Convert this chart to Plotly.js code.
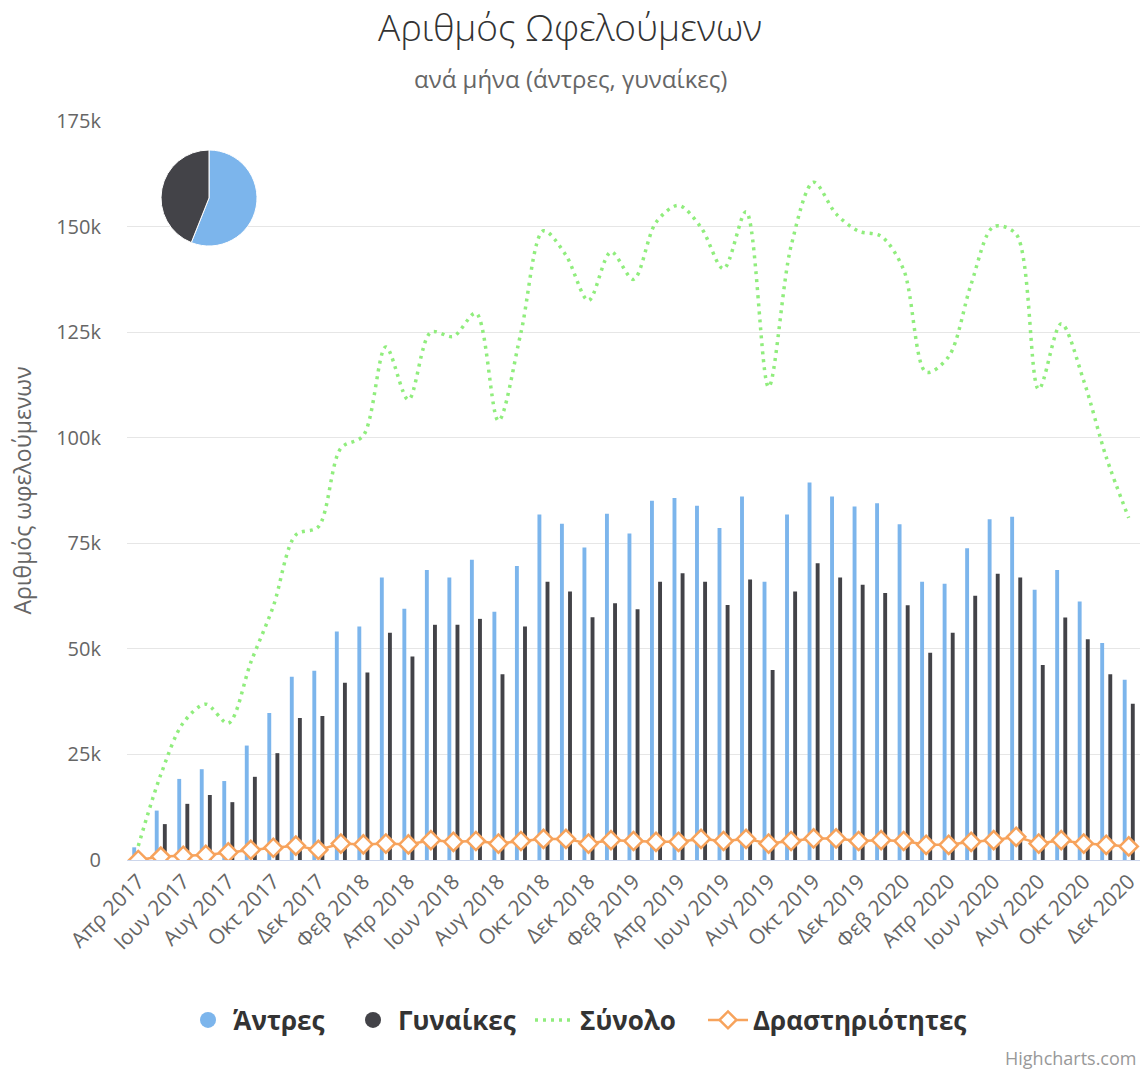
<!DOCTYPE html>
<html>
<head>
<meta charset="utf-8">
<script src="https://cdn.plot.ly/plotly-3.0.1.min.js"></script>
<style>
  html, body { margin: 0; padding: 0; background: #ffffff; }
  #chart { width: 1140px; height: 1071px; }
</style>
</head>
<body>
<div id="chart"></div>
<script>
// Categories (months, Apr 2017 – Dec 2020)
const months = [
  "Απρ 2017","Μαϊ 2017","Ιουν 2017","Ιουλ 2017","Αυγ 2017","Σεπ 2017","Οκτ 2017","Νοε 2017","Δεκ 2017",
  "Ιαν 2018","Φεβ 2018","Μαρ 2018","Απρ 2018","Μαϊ 2018","Ιουν 2018","Ιουλ 2018","Αυγ 2018","Σεπ 2018","Οκτ 2018","Νοε 2018","Δεκ 2018",
  "Ιαν 2019","Φεβ 2019","Μαρ 2019","Απρ 2019","Μαϊ 2019","Ιουν 2019","Ιουλ 2019","Αυγ 2019","Σεπ 2019","Οκτ 2019","Νοε 2019","Δεκ 2019",
  "Ιαν 2020","Φεβ 2020","Μαρ 2020","Απρ 2020","Μαϊ 2020","Ιουν 2020","Ιουλ 2020","Αυγ 2020","Σεπ 2020","Οκτ 2020","Νοε 2020","Δεκ 2020"
];

// Άντρες (men)
const men = [3000, 11700, 19200, 21500, 18700, 27100, 34800, 43400, 44800,
  54100, 55300, 66900, 59500, 68700, 66900, 71100, 58800, 69600, 81800, 79600, 74000,
  82000, 77300, 85100, 85700, 83900, 78600, 86100, 65900, 81800, 89400, 86100, 83700,
  84500, 79500, 65900, 65400, 73800, 80700, 81300, 64000, 68700, 61200, 51400, 42700];

// Γυναίκες (women)
const women = [300, 8500, 13300, 15400, 13700, 19700, 25300, 33600, 34100,
  42000, 44400, 53800, 48200, 55700, 55700, 57100, 44000, 55300, 65900, 63600, 57500,
  60800, 59400, 65900, 67900, 65900, 60400, 66400, 45000, 63600, 70300, 66900, 65200,
  63200, 60300, 49100, 53800, 62600, 67800, 66900, 46200, 57400, 52300, 44000, 37000];

// Σύνολο (total)
const total = [3300, 20200, 32500, 36900, 32400, 46800, 60100, 77000, 78900,
  97500, 100500, 121500, 109000, 125000, 124000, 129500, 104000, 124900, 149000, 143200, 132500,
  144000, 137500, 151000, 155000, 149800, 140000, 153500, 112000, 145400, 160500, 153000, 148900,
  147700, 139800, 115500, 119200, 136400, 150000, 148200, 111500, 127000, 113500, 95400, 81000];

// Δραστηριότητες (activities)
const activities = [0, 800, 1000, 1200, 1800, 2400, 2900, 3400, 2400,
  3900, 3700, 3900, 3700, 4700, 4300, 4500, 3900, 4500, 5000, 5000, 3900,
  4700, 4500, 4300, 4300, 5000, 4500, 5000, 3900, 4500, 5100, 5100, 4500,
  4700, 4500, 3600, 3600, 4300, 4700, 5500, 3900, 4700, 3900, 3600, 3200];

// Pie labels
const pieLabels = ["Άντρες", "Γυναίκες"];

const tickLabels = months.filter((m, i) => i % 2 === 0);

const sum = a => a.reduce((s, v) => s + v, 0);

const cBlue = "#7cb5ec", cDark = "#434348", cGreen = "#90ed7d", cOrange = "#f7a35c";
const FONT = "Open Sans, Noto Sans, sans-serif";

// pixel helpers for paper coordinates (plot area: x 127..1140, y 121..860)
const PL = 127, PW = 1013, PB = 860, PH = 739;
const px = x => (x - PL) / PW;
const py = y => (PB - y) / PH;

const traces = [
  { type: "bar", x: months, y: men, name: "Άντρες", marker: { color: cBlue }, showlegend: false, hoverinfo: "x+y" },
  { type: "bar", x: months, y: women, name: "Γυναίκες", marker: { color: cDark }, showlegend: false, hoverinfo: "x+y" },
  { type: "scatter", mode: "lines", x: months, y: total, name: "Σύνολο",
    line: { color: cGreen, width: 3.5, dash: "3px,5px", shape: "spline", smoothing: 0.9 }, showlegend: false },
  { type: "scatter", mode: "lines+markers", x: months, y: activities, name: "Δραστηριότητες",
    line: { color: cOrange, width: 2.5 },
    marker: { symbol: "diamond", size: 14, color: "#ffffff", line: { color: cOrange, width: 2.5 } }, showlegend: false },
  // legend entries (Highcharts-style symbols), one legend each for exact placement
  { type: "scatter", mode: "markers", x: [null], y: [null], name: "Άντρες", legend: "legend",
    marker: { symbol: "circle", size: 21, color: cBlue }, showlegend: true },
  { type: "scatter", mode: "markers", x: [null], y: [null], name: "Γυναίκες", legend: "legend2",
    marker: { symbol: "circle", size: 21, color: cDark }, showlegend: true },
  { type: "scatter", mode: "lines", x: [null], y: [null], name: "Σύνολο", legend: "legend3",
    line: { color: cGreen, width: 3.5, dash: "3px,5px" }, showlegend: true },
  { type: "scatter", mode: "lines+markers", x: [null], y: [null], name: "Δραστηριότητες", legend: "legend4",
    line: { color: cOrange, width: 2.5 },
    marker: { symbol: "diamond", size: 13, color: "#ffffff", line: { color: cOrange, width: 2.5 } }, showlegend: true },
  { type: "pie", labels: pieLabels, values: [sum(men), sum(women)],
    marker: { colors: [cBlue, cDark], line: { color: "#ffffff", width: 1 } },
    textinfo: "none", sort: false, direction: "clockwise", rotation: 0,
    domain: { x: [px(161), px(257)], y: [py(246), py(150)] }, showlegend: false, hoverinfo: "label+value" }
];

const legendBase = x => ({
  orientation: "h", xref: "container", x: x / 1140, xanchor: "left",
  yref: "container", y: (1071 - 1020) / 1071, yanchor: "middle",
  font: { family: FONT, size: 26, color: "#333333", weight: "bold" },
  itemwidth: 40, bgcolor: "rgba(0,0,0,0)"
});

const layout = {
  width: 1140, height: 1071,
  margin: { l: PL, r: 0, t: 121, b: 211 },
  paper_bgcolor: "#ffffff", plot_bgcolor: "#ffffff",
  font: { family: FONT, color: "#666666" },
  title: { text: "Αριθμός Ωφελούμενων", x: 0.5, xref: "container", y: 0.974, yref: "container", yanchor: "middle",
    font: { family: FONT, size: 37, color: "#333333", weight: 300 } },
  barmode: "group", bargap: 0.28, bargroupgap: 0.52,
  xaxis: {
    type: "category", range: [-0.5, 44.5],
    tickmode: "array", tickvals: tickLabels, ticktext: tickLabels,
    tickangle: -45, tickfont: { family: FONT, size: 21, color: "#666666" },
    showgrid: false, showline: true, linecolor: "#ccd6eb", linewidth: 1, ticks: "", zeroline: false,
    fixedrange: true
  },
  yaxis: {
    range: [0, 175000], tickvals: [0, 25000, 50000, 75000, 100000, 125000, 150000, 175000],
    tickformat: "~s", tickfont: { family: FONT, size: 20, color: "#666666" },
    gridcolor: "#e6e6e6", gridwidth: 1, zeroline: false, showline: false, ticks: "",
    ticklabelstandoff: 25,
    title: { text: "Αριθμός ωφελούμενων", standoff: 18, font: { family: FONT, size: 23, color: "#666666" } }
  },
  legend: legendBase(183),
  legend2: legendBase(348),
  legend3: legendBase(530),
  legend4: legendBase(703),
  annotations: [
    { text: "ανά μήνα (άντρες, γυναίκες)", xref: "paper", yref: "paper",
      x: px(570), y: py(78), xanchor: "center", yanchor: "middle", showarrow: false,
      font: { family: FONT, size: 24, color: "#666666" } },
    { text: "Highcharts.com", xref: "paper", yref: "paper", x: px(1138), y: py(1058),
      xanchor: "right", yanchor: "middle", showarrow: false,
      font: { family: FONT, size: 18, color: "#999999" } }
  ],
  showlegend: true,
  hovermode: "closest"
};

Plotly.newPlot("chart", traces, layout, { displayModeBar: false });
</script>
</body>
</html>
